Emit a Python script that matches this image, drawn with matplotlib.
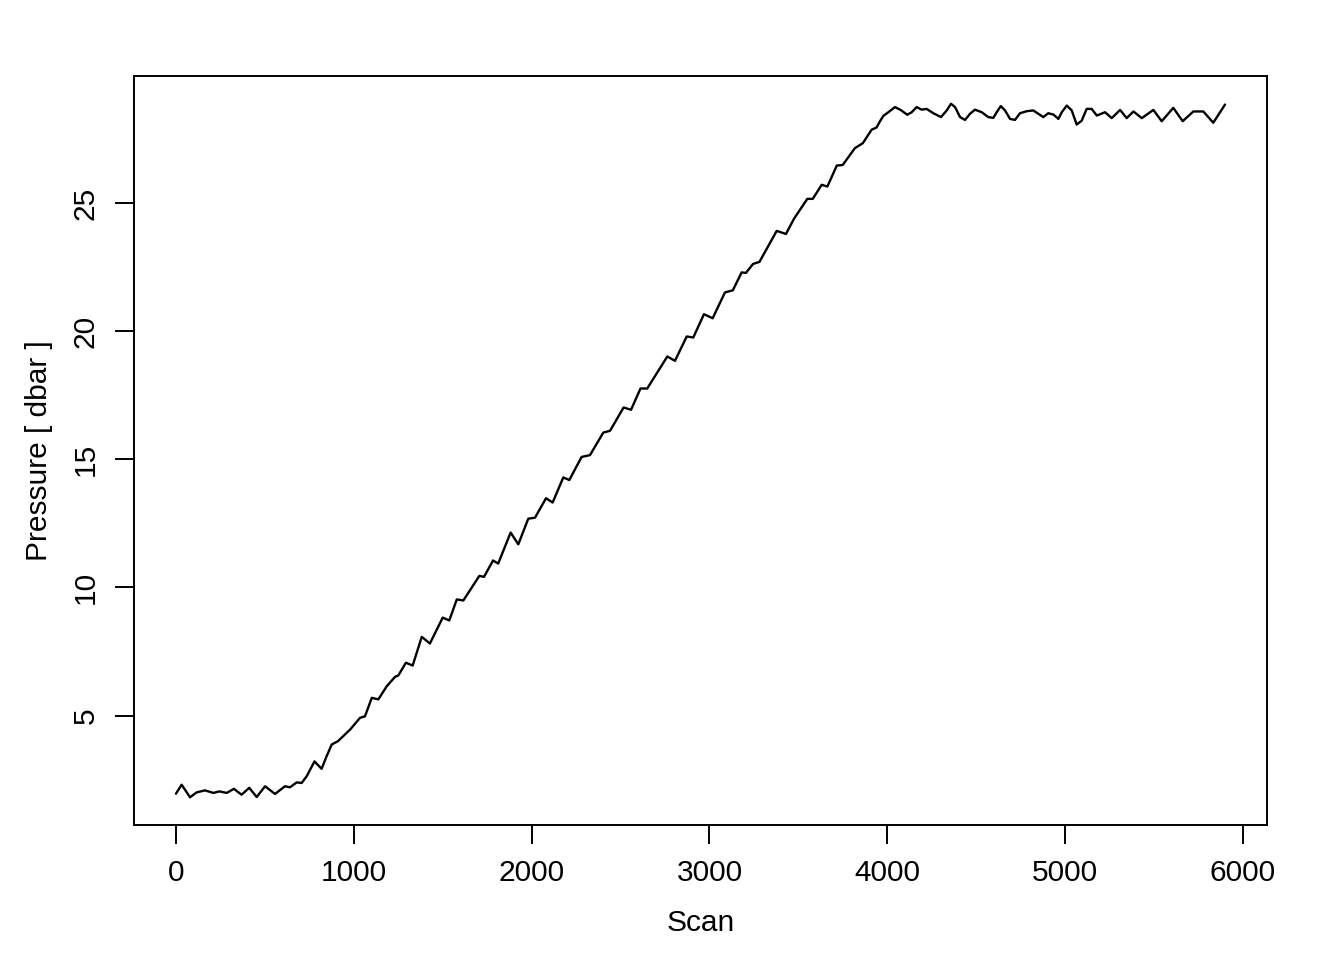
import matplotlib
matplotlib.use("Agg")
import matplotlib.pyplot as plt

# values
scan = [0, 32, 79, 116, 163, 210, 244, 285, 326, 369, 412, 454, 501, 557, 613,
        641, 679, 707, 735, 779, 819, 847, 876, 911, 979, 1035, 1063, 1101, 1138,
        1185, 1232, 1250, 1293, 1331, 1382, 1428, 1500, 1537, 1579, 1616, 1706,
        1732, 1783, 1812, 1882, 1925, 1981, 2019, 2081, 2118, 2178, 2212, 2281,
        2328, 2403, 2441, 2517, 2559, 2612, 2650, 2763, 2806, 2872, 2909, 2969,
        3018, 3087, 3131, 3181, 3205, 3245, 3281, 3378, 3430, 3475, 3550, 3581,
        3631, 3663, 3716, 3749, 3818, 3862, 3912, 3939, 3959, 3978, 4006, 4043,
        4075, 4112, 4137, 4165, 4193, 4221, 4259, 4302, 4334, 4358, 4381, 4409,
        4437, 4465, 4493, 4531, 4568, 4596, 4615, 4638, 4662, 4690, 4718, 4746,
        4784, 4821, 4849, 4877, 4905, 4934, 4962, 4981, 5009, 5037, 5065, 5093,
        5121, 5149, 5178, 5224, 5262, 5309, 5346, 5384, 5431, 5496, 5543, 5608,
        5661, 5721, 5777, 5833, 5899]

pressure = [1.95, 2.30, 1.81, 2.00, 2.08, 1.98, 2.04, 1.98, 2.14, 1.91, 2.18, 1.82,
            2.24, 1.94, 2.24, 2.20, 2.39, 2.37, 2.63, 3.21, 2.92, 3.41, 3.87, 4.00,
            4.45, 4.91, 4.97, 5.69, 5.63, 6.14, 6.51, 6.56, 7.06, 6.95, 8.07, 7.81,
            8.82, 8.71, 9.53, 9.49, 10.45, 10.41, 11.05, 10.93, 12.14, 11.68, 12.68,
            12.72, 13.48, 13.31, 14.29, 14.19, 15.09, 15.16, 16.04, 16.11, 17.02,
            16.93, 17.76, 17.76, 19.01, 18.84, 19.79, 19.75, 20.66, 20.50, 21.51,
            21.59, 22.29, 22.27, 22.62, 22.70, 23.91, 23.79, 24.38, 25.16, 25.16,
            25.71, 25.64, 26.46, 26.48, 27.14, 27.33, 27.86, 27.94, 28.19, 28.40,
            28.54, 28.74, 28.63, 28.44, 28.54, 28.74, 28.64, 28.67, 28.50, 28.35,
            28.61, 28.87, 28.74, 28.35, 28.24, 28.48, 28.64, 28.54, 28.35, 28.32,
            28.54, 28.78, 28.61, 28.28, 28.24, 28.50, 28.58, 28.61, 28.48, 28.35,
            28.50, 28.45, 28.28, 28.54, 28.80, 28.61, 28.06, 28.21, 28.67, 28.67,
            28.41, 28.54, 28.31, 28.63, 28.31, 28.57, 28.31, 28.63, 28.19, 28.71,
            28.19, 28.57, 28.57, 28.13, 28.84]

xticks = [0, 1000, 2000, 3000, 4000, 5000, 6000]
yticks = [5, 10, 15, 20, 25]

plt.rcParams['font.family'] = ['Liberation Sans', 'DejaVu Sans']

fig = plt.figure(figsize=(13.44, 9.6), dpi=100)
ax = fig.add_axes([0.0997, 0.1406, 0.8430, 0.7802])

ax.plot(scan, pressure, color='black', linewidth=1.7,
        solid_joinstyle='round', solid_capstyle='round')
ax.margins(0.04)

ax.set_xticks(xticks)
ax.set_yticks(yticks)
ax.tick_params(direction='out', length=13.5, width=1.4, labelsize=21.5, pad=11)
for lab in ax.get_yticklabels():
    lab.set_rotation(90)
    lab.set_verticalalignment('center')
for s in ax.spines.values():
    s.set_linewidth(1.4)

ax.set_xlabel('Scan', fontsize=21.5, labelpad=16)
ax.set_ylabel('Pressure [ dbar ]', fontsize=21.5, labelpad=14)

plt.savefig("out.png", dpi=100)
